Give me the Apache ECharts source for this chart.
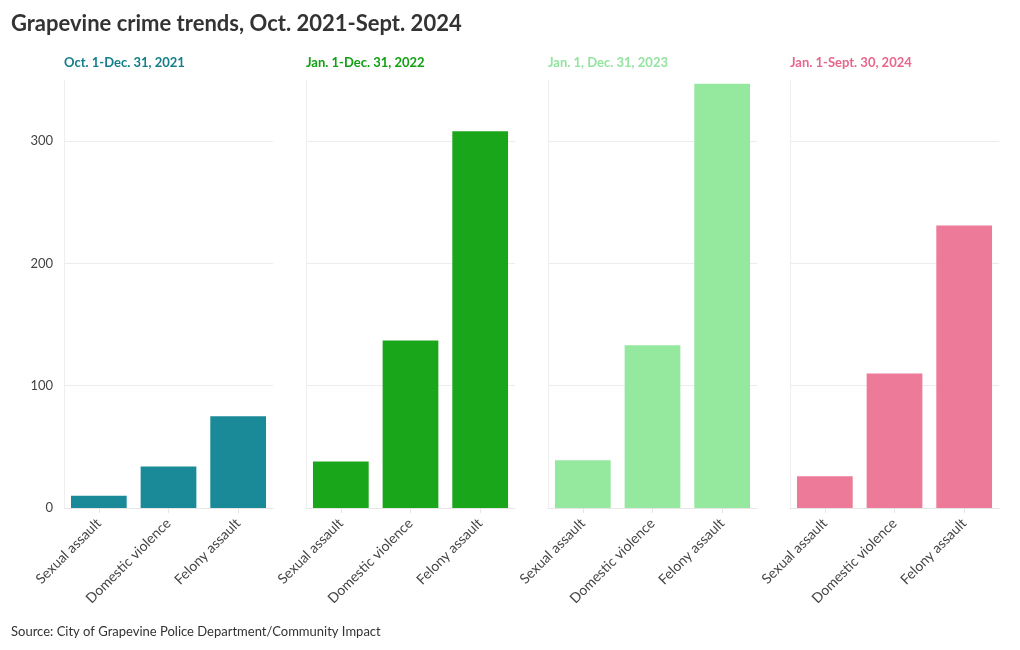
<!DOCTYPE html>
<html>
<head>
<meta charset="utf-8">
<script src="https://cdn.jsdelivr.net/npm/echarts@6/dist/echarts.min.js"></script>
<style>
html,body{margin:0;padding:0;background:#fff;}
#chart{width:1020px;height:650px;}
</style>
</head>
<body>
<div id="chart"></div>
<script>
var categories = ['Sexual assault', 'Domestic violence', 'Felony assault'];
var periods = ['Oct. 1-Dec. 31, 2021', 'Jan. 1-Dec. 31, 2022', 'Jan. 1, Dec. 31, 2023', 'Jan. 1-Sept. 30, 2024'];
var values2021 = [10, 34, 75];
var values2022 = [38, 137, 308];
var values2023 = [39, 133, 347];
var values2024 = [26, 110, 231];
var yTicks = [0, 100, 200, 300];

var allValues = [values2021, values2022, values2023, values2024];
var barColors = ['#1a8a99', '#1aa61a', '#94e99f', '#ee7a99'];
var titleColors = ['#137d89', '#12a012', '#94e3a0', '#e8668b'];
var FONT = 'Lato, "Noto Sans", sans-serif';

var grids = [], xAxes = [], yAxes = [], series = [], titles = [];
titles.push({
  text: 'Grapevine crime trends, Oct. 2021-Sept. 2024',
  left: 11, top: 13, padding: 0,
  textStyle: {fontFamily: FONT, fontSize: 22, fontWeight: 'bold', color: '#333'}
});
titles.push({
  text: 'Source: City of Grapevine Police Department/Community Impact',
  left: 11, top: 625, padding: 0,
  textStyle: {fontFamily: FONT, fontSize: 13, fontWeight: 'normal', color: '#333'}
});
for (var i = 0; i < 4; i++) {
  var left = 64 + 242 * i;
  grids.push({left: left, width: 209, top: 80, height: 428, containLabel: false});
  titles.push({
    text: periods[i], left: left, top: 56, padding: 0,
    textStyle: {fontFamily: FONT, fontSize: 13, fontWeight: 'bold', color: titleColors[i]}
  });
  xAxes.push({
    type: 'category', gridIndex: i, data: categories,
    axisLine: {show: true, lineStyle: {color: '#e6e6e6'}},
    axisTick: {show: true, alignWithLabel: true, length: 5, lineStyle: {color: '#e6e6e6'}},
    axisLabel: {rotate: 45, fontFamily: FONT, fontSize: 14, color: '#444', margin: 13, interval: 0}
  });
  yAxes.push({
    type: 'value', gridIndex: i, min: 0, max: 350, interval: 100,
    axisLine: {show: true, lineStyle: {color: '#eeeeee'}},
    axisTick: {show: false},
    axisLabel: {show: i === 0, fontFamily: FONT, fontSize: 13, color: '#444', margin: 11, showMaxLabel: false,
      formatter: function (v) { return yTicks.indexOf(v) >= 0 ? String(v) : ''; }},
    splitLine: {show: true, lineStyle: {color: ['#ececec', '#ececec', '#ececec', '#ececec', 'rgba(0,0,0,0)']}}
  });
  series.push({
    type: 'bar', xAxisIndex: i, yAxisIndex: i, data: allValues[i],
    barCategoryGap: '20%',
    itemStyle: {color: barColors[i]},
    emphasis: {disabled: true}
  });
}

var chart = echarts.init(document.getElementById('chart'));
chart.setOption({
  animation: false,
  backgroundColor: '#fff',
  title: titles,
  grid: grids,
  xAxis: xAxes,
  yAxis: yAxes,
  series: series
});
</script>
</body>
</html>
